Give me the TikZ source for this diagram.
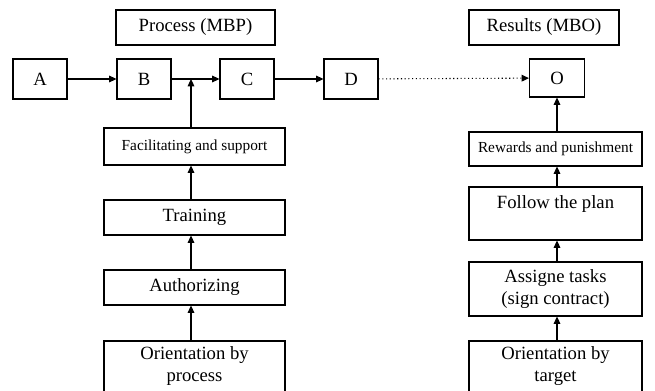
\documentclass[tikz,border=0pt]{standalone}
\usepackage{fontspec}
\setmainfont{Liberation Serif}
\usetikzlibrary{arrows.meta}
\tikzset{
  box/.style={draw=black, line width=0.8pt, inner sep=0pt, align=center,
    font=\fontsize{14}{16.5}\selectfont},
  smallbox/.style={box, font=\fontsize{11.5}{13}\selectfont},
  letter/.style={box, minimum width=40.5pt, minimum height=30pt},
  wide/.style={minimum width=135.75pt},
  arr/.style={line width=0.8pt, -{Triangle[length=5.5pt,width=5pt]}}
}
\begin{document}
\begin{tikzpicture}[x=0.75pt,y=-0.75pt]
\useasboundingbox (0,0) rectangle (655,391);
\clip (0,0) rectangle (655,391);
% headers
\node[box, minimum width=119.25pt, minimum height=26.25pt] (mbp) at (195.5,27.5) {Process (MBP)};
\node[box, minimum width=112.5pt, minimum height=26.25pt] (mbo) at (544,27.5) {Results (MBO)};
% process chain
\node[letter] (A) at (40,79) {A};
\node[letter] (B) at (144,79) {B};
\node[letter] (C) at (247,79) {C};
\node[letter] (D) at (351,79) {D};
\node[box, minimum width=41.25pt, minimum height=28.5pt] (O) at (557,78) {O};
\coordinate (join) at (191,79);
% left column
\node[smallbox, wide, minimum height=27.75pt] (facil) at (194.5,146.5) {Facilitating and support};
\node[box, wide, minimum height=26.25pt] (train) at (194.5,217.5) {Training};
\node[box, wide, minimum height=26.25pt] (auth) at (194.5,287.5) {Authorizing};
\node[box, wide, minimum height=38.25pt] (orproc) at (194.5,366.5) {Orientation by\\process};
% right column
\node[smallbox, minimum width=129.75pt, minimum height=25.5pt] (reward) at (555.5,149) {Rewards and punishment};
\node[box, minimum width=129.75pt, minimum height=39.75pt] (follow) at (555.5,213.5) {Follow the plan\\\mbox{}};
\node[box, minimum width=129.75pt, minimum height=40.5pt] (assign) at (555.5,289) {Assigne tasks\\(sign contract)};
\node[box, minimum width=129.75pt, minimum height=38.25pt] (ortarg) at (555.5,366.5) {Orientation by\\target};
% arrows
\draw[arr] (A) -- (B);
\draw[arr] (B) -- (C);
\draw[arr] (C) -- (D);
\draw[arr, dotted] (D) -- (O);
\draw[arr] (facil.north -| join) -- (join);
\draw[arr] (train.north -| join) -- (facil.south -| join);
\draw[arr] (auth.north -| join) -- (train.south -| join);
\draw[arr] (orproc.north -| join) -- (auth.south -| join);
\draw[arr] (reward.north -| O) -- (O);
\draw[arr] (follow.north -| O) -- (reward.south -| O);
\draw[arr] (assign.north -| O) -- (follow.south -| O);
\draw[arr] (ortarg.north -| O) -- (assign.south -| O);
\end{tikzpicture}
\end{document}
